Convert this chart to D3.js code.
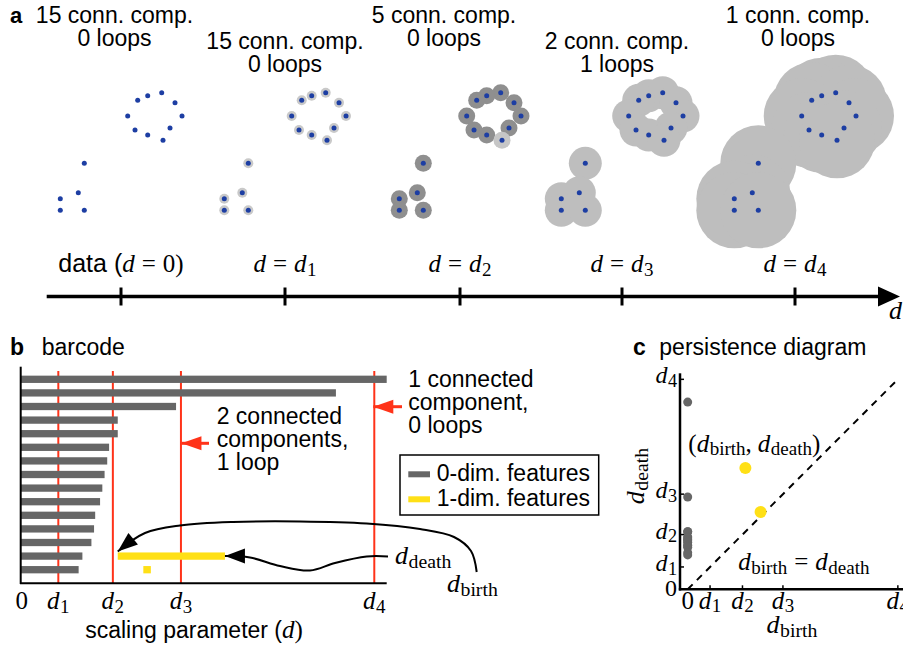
<!DOCTYPE html>
<html lang="en">
<head>
<meta charset="UTF-8">
<title>Persistent homology: barcode and persistence diagram</title>
<script src="https://d3js.org/d3.v7.min.js"></script>
<style>
    body { margin: 0; padding: 0; background: #fff; overflow: hidden; }
    svg { display: block; }
    text { white-space: pre; }
</style>
</head>
<body>
<svg id="fig" width="903" height="650"></svg>
<script>
// ---- data ----
// point cloud (x relative to the stage tick, y absolute)
var cloudX = [40.7, 26.7, 16.7, 54, 6.7, 61, 14, 49, 26.7, 42, -36.7, -42.7, -60.7, -60.7, -36.7];
var cloudY = [92.7, 95.7, 100.3, 102.7, 116, 116, 130, 128, 135, 140.3, 163.3, 192.7, 198.7, 210.3, 210.3];

// filtration stages
var stageLabels = ['0', '1', '2', '3', '4'];
var stageRadius = [0, 5, 8.5, 16.5, 38];
var stageComps = [15, 15, 5, 2, 1];
var stageLoops = [0, 0, 0, 1, 0];
var stageShade = ['none', '#c9c9c9', '#8f8f8f', '#bebebe', '#bebebe'];

// scaling parameter values
var dTicks = [1, 2.45, 4.26, 9.4];
var dNames = ['1', '2', '3', '4'];

// barcode: 0-dim features (birth 0), death values; first one never dies
var h0Death = [Infinity, 8.38, 4.13, 2.58, 2.58, 2.35, 2.30, 2.23, 2.17, 2.11, 1.98, 1.95, 1.88, 1.64, 1.54];
// 1-dim features
var h1Birth = [2.58, 3.26];
var h1Death = [5.43, 3.46];
var h1Row = [13, 14];

var sans = "'Liberation Sans', Arial, Helvetica, sans-serif";
var serif = "'Liberation Serif', 'Times New Roman', serif";
var gray = '#666666', yellow = '#ffe016', red = '#ff3319', blue = '#1d3ea3';

var svg = d3.select('#fig');

// math-ish text helper: parts = [{t, i, sub, sans, dx}]
function mathText(g, x, y, parts, size, anchor) {
    var t = g.append('text')
        .attr('x', x).attr('y', y)
        .attr('font-family', serif)
        .attr('font-size', size)
        .attr('text-anchor', anchor || 'start');
    var shift = size * 0.15, inSub = false;
    parts.forEach(function(p) {
        var s = t.append('tspan').text(p.t);
        if (p.i) s.attr('font-style', 'italic');
        if (p.sans) s.attr('font-family', sans);
        if (p.dx) s.attr('dx', p.dx);
        if (p.sub) {
            s.attr('font-size', size * 0.76);
            if (!inSub) s.attr('dy', shift);
            inSub = true;
        } else if (inSub) {
            s.attr('dy', -shift);
            inSub = false;
        }
    });
    return t;
}
function dSub(name) { return [{t: 'd', i: true}, {t: name, sub: true, dx: 0.5}]; }

// arrow markers
var defs = svg.append('defs');
function marker(id, color, len, half) {
    defs.append('marker')
        .attr('id', id)
        .attr('markerUnits', 'userSpaceOnUse')
        .attr('viewBox', (-1) + ' ' + (-half - 1) + ' ' + (len + 2) + ' ' + (2 * half + 2))
        .attr('markerWidth', len + 2).attr('markerHeight', 2 * half + 2)
        .attr('refX', len).attr('refY', 0)
        .attr('orient', 'auto')
        .append('path')
        .attr('d', 'M0,' + (-half) + 'L' + len + ',0L0,' + half + 'Z')
        .attr('fill', color);
}
marker('redHead', red, 20, 7);
marker('blackHead', '#000', 20, 7.5);

// ================= panel a =================
var pa = svg.append('g');
var stageX = d3.scaleLinear().domain([0, 1, 2, 3, 4]).range([121, 285, 460, 622, 795]);
var titleDx = [-6.5, 0, -16, -5, 3];
var cloudSX = d3.scaleLinear().domain([-70, 70]).range([-70, 70]);
var cloudSY = d3.scaleLinear().domain([90, 215]).range([90, 215]);

pa.append('text').attr('x', 10).attr('y', 23)
    .attr('font-family', sans).attr('font-weight', 'bold').attr('font-size', 22).text('a');

stageLabels.forEach(function(s, k) {
    var x0 = stageX(k);
    var ty = (k % 2 === 0) ? 23 : 49;
    var tt = pa.append('text').attr('font-family', sans).attr('font-size', 23)
        .attr('text-anchor', 'middle');
    tt.append('tspan').attr('x', x0 + titleDx[k]).attr('y', ty)
        .text(stageComps[k] + ' conn. comp.');
    tt.append('tspan').attr('x', x0 + titleDx[k]).attr('y', ty + 23)
        .text(stageLoops[k] + ' loops');

    var g = pa.append('g').attr('transform', 'translate(' + x0 + ',0)');
    if (stageRadius[k] > 0) {
        var idx = d3.range(cloudX.length);
        g.selectAll('circle.halo').data(idx).enter().append('circle')
            .attr('class', 'halo')
            .attr('cx', function(i) { return cloudSX(cloudX[i]); })
            .attr('cy', function(i) { return cloudSY(cloudY[i]); })
            .attr('r', cloudSX(stageRadius[k]) - cloudSX(0))
            .attr('fill', function(i) { return (k === 2 && i === 9) ? '#c6c6c6' : stageShade[k]; });
    }
    g.selectAll('circle.pt').data(d3.range(cloudX.length)).enter().append('circle')
        .attr('class', 'pt')
        .attr('cx', function(i) { return cloudSX(cloudX[i]); })
        .attr('cy', function(i) { return cloudSY(cloudY[i]); })
        .attr('r', 2.5)
        .attr('fill', blue);

    // labels above the axis
    var lab = k === 0
        ? [{t: 'data (', sans: true}, {t: 'd', i: true}, {t: '=', dx: 7}, {t: '0)', dx: 7}]
        : [{t: 'd', i: true}, {t: '=', dx: 7}, {t: 'd', i: true, dx: 7}, {t: s, sub: true, dx: 0.5}];
    mathText(pa, x0, 272, lab, 25, 'middle');
});

// scaling axis with arrow
pa.append('line').attr('x1', 46.7).attr('x2', 882).attr('y1', 296.5).attr('y2', 296.5)
    .attr('stroke', '#000').attr('stroke-width', 3.5);
pa.append('path').attr('d', 'M878,286.5L900,296.5L878,306.5Z').attr('fill', '#000');
pa.selectAll('line.st').data(stageLabels).enter().append('line')
    .attr('class', 'st')
    .attr('x1', function(d, k) { return stageX(k); })
    .attr('x2', function(d, k) { return stageX(k); })
    .attr('y1', 287.5).attr('y2', 305.5)
    .attr('stroke', '#000').attr('stroke-width', 3);
mathText(pa, 889, 319, [{t: 'd', i: true}], 26, 'start');

// ================= panel b =================
var pb = svg.append('g');
var xB = d3.scaleLinear().domain([0, 9.73]).range([20.7, 386.7]);
var yRow = d3.scalePoint().domain(d3.range(15)).range([379.3, 569.7]);
var barH = 7.3;

pb.append('text').attr('x', 10).attr('y', 355)
    .attr('font-family', sans).attr('font-weight', 'bold').attr('font-size', 23).text('b');
pb.append('text').attr('x', 41.7).attr('y', 355)
    .attr('font-family', sans).attr('font-size', 23).text('barcode');

// red lines at d1..d4
pb.selectAll('line.dl').data(dTicks).enter().append('line')
    .attr('class', 'dl')
    .attr('x1', function(d) { return xB(d); }).attr('x2', function(d) { return xB(d); })
    .attr('y1', 371).attr('y2', 583.3)
    .attr('stroke', red).attr('stroke-width', 2);

// 0-dim bars
pb.selectAll('rect.h0').data(h0Death).enter().append('rect')
    .attr('class', 'h0')
    .attr('x', xB(0))
    .attr('y', function(d, i) { return yRow(i) - barH / 2; })
    .attr('width', function(d) { return xB(Math.min(d, xB.domain()[1])) - xB(0); })
    .attr('height', barH)
    .attr('fill', gray);

// 1-dim bars
pb.selectAll('rect.h1').data(h1Birth).enter().append('rect')
    .attr('class', 'h1')
    .attr('x', function(d) { return xB(d); })
    .attr('y', function(d, i) { return yRow(h1Row[i]) - barH / 2; })
    .attr('width', function(d, i) { return xB(h1Death[i]) - xB(d); })
    .attr('height', barH)
    .attr('fill', yellow);

// axes
pb.append('line').attr('x1', 20.7).attr('x2', 20.7).attr('y1', 366.7).attr('y2', 584)
    .attr('stroke', '#000').attr('stroke-width', 2);
pb.append('line').attr('x1', 20).attr('x2', 386.7).attr('y1', 583.3).attr('y2', 583.3)
    .attr('stroke', '#000').attr('stroke-width', 2);

mathText(pb, xB(0) + 1, 609, [{t: '0'}], 25, 'middle');
dTicks.forEach(function(d, k) {
    mathText(pb, xB(d), 609, dSub(dNames[k]), 25, 'middle');
});
var xl = pb.append('text').attr('x', 194).attr('y', 637.5)
    .attr('font-family', sans).attr('font-size', 23).attr('text-anchor', 'middle');
xl.append('tspan').text('scaling parameter (');
xl.append('tspan').attr('font-family', serif).attr('font-style', 'italic').attr('font-size', 25).text('d');
xl.append('tspan').attr('font-family', serif).attr('font-size', 25).text(')');

// annotations
function lines(x, y0, arr, size) {
    var t = pb.append('text').attr('font-family', sans).attr('font-size', size);
    arr.forEach(function(s, i) {
        t.append('tspan').attr('x', x).attr('y', y0 + i * 23).text(s);
    });
}
lines(408.3, 387, ['1 connected', 'component,', '0 loops'], 23);
lines(216.7, 424, ['2 connected', 'components,', '1 loop'], 23);

pb.append('line').attr('x1', 402).attr('x2', xB(dTicks[3]) - 1).attr('y1', 406.7).attr('y2', 406.7)
    .attr('stroke', red).attr('stroke-width', 3).attr('marker-end', 'url(#redHead)');
pb.append('line').attr('x1', 209).attr('x2', xB(dTicks[2]) + 0.5).attr('y1', 443.3).attr('y2', 443.3)
    .attr('stroke', red).attr('stroke-width', 3).attr('marker-end', 'url(#redHead)');

// legend
var lg = pb.append('g');
lg.append('rect').attr('x', 400).attr('y', 455).attr('width', 198.7).attr('height', 60)
    .attr('fill', '#fff').attr('stroke', '#000').attr('stroke-width', 1.5);
[['0-dim. features', gray], ['1-dim. features', yellow]].forEach(function(it, i) {
    lg.append('rect').attr('x', 408.3).attr('y', 471.3 + i * 25).attr('width', 21.7).attr('height', 6)
        .attr('fill', it[1]);
    lg.append('text').attr('x', 436.7).attr('y', 480.5 + i * 25)
        .attr('font-family', sans).attr('font-size', 23).text(it[0]);
});

// curved arrows to birth / death of the loop
var curve = d3.line().curve(d3.curveCatmullRom.alpha(0.5));
var tipB = [xB(h1Birth[0]), yRow(h1Row[0]) - barH / 2 - 1];
pb.append('path')
    .attr('d', curve([[476.7, 572], [471, 551], [454, 537], [420, 529], [366.7, 523.5],
        [300, 521.5], [233, 522], [180, 525.5], [145, 533], tipB]))
    .attr('fill', 'none').attr('stroke', '#000').attr('stroke-width', 2)
    .attr('marker-end', 'url(#blackHead)');
var tipD = [xB(h1Death[0]), yRow(h1Row[0])];
pb.append('path')
    .attr('d', curve([[388, 556.5], [366.7, 556.5], [335, 563], [310, 570.5], [280, 566], [250, 557.5], tipD]))
    .attr('fill', 'none').attr('stroke', '#000').attr('stroke-width', 2)
    .attr('marker-end', 'url(#blackHead)');
mathText(pb, 395, 564, [{t: 'd', i: true}, {t: 'death', sub: true, dx: 0.5}], 26, 'start');
mathText(pb, 447, 592, [{t: 'd', i: true}, {t: 'birth', sub: true, dx: 0.5}], 26, 'start');

// ================= panel c =================
var pc = svg.append('g');
var xC = d3.scaleLinear().domain([-0.344, 9.63]).range([680, 903]);
var yC = d3.scaleLinear().domain([0, 9.67]).range([589.3, 373.3]);

pc.append('text').attr('x', 633).attr('y', 355)
    .attr('font-family', sans).attr('font-weight', 'bold').attr('font-size', 23).text('c');
pc.append('text').attr('x', 659.3).attr('y', 355)
    .attr('font-family', sans).attr('font-size', 23).text('persistence diagram');

// diagonal
pc.append('line')
    .attr('x1', xC(0)).attr('y1', yC(0)).attr('x2', xC(dTicks[3])).attr('y2', yC(dTicks[3]))
    .attr('stroke', '#000').attr('stroke-width', 2).attr('stroke-dasharray', '7,6');

// axes
pc.append('line').attr('x1', xC(-0.344)).attr('x2', xC(-0.344)).attr('y1', yC(9.67)).attr('y2', yC(0) + 1.2)
    .attr('stroke', '#000').attr('stroke-width', 2.5);
pc.append('line').attr('x1', xC(-0.344) - 1.2).attr('x2', 903).attr('y1', yC(0)).attr('y2', yC(0))
    .attr('stroke', '#000').attr('stroke-width', 2.5);
pc.selectAll('line.xt').data(dTicks).enter().append('line')
    .attr('class', 'xt')
    .attr('x1', function(d) { return xC(d); }).attr('x2', function(d) { return xC(d); })
    .attr('y1', yC(0)).attr('y2', yC(0) - 4)
    .attr('stroke', '#000').attr('stroke-width', 1.5);
pc.selectAll('line.yt').data(dTicks).enter().append('line')
    .attr('class', 'yt')
    .attr('x1', xC(-0.344)).attr('x2', xC(-0.344) + 4)
    .attr('y1', function(d) { return yC(d); }).attr('y2', function(d) { return yC(d); })
    .attr('stroke', '#000').attr('stroke-width', 1.5);

mathText(pc, xC(0), 608.5, [{t: '0'}], 25, 'middle');
mathText(pc, 677, yC(0) + 7, [{t: '0'}], 24, 'end');
dTicks.forEach(function(d, k) {
    mathText(pc, xC(d), 608.5, dSub(dNames[k]), 25, 'middle');
    mathText(pc, 677, yC(d) + 4, dSub(dNames[k]), 24, 'end');
});

// points
var finiteH0 = h0Death.filter(function(d) { return isFinite(d); });
pc.selectAll('circle.p0').data(finiteH0).enter().append('circle')
    .attr('class', 'p0')
    .attr('cx', xC(0)).attr('cy', function(d) { return yC(d); })
    .attr('r', 4.5).attr('fill', gray);
pc.selectAll('circle.p1').data(h1Birth).enter().append('circle')
    .attr('class', 'p1')
    .attr('cx', function(d) { return xC(d); })
    .attr('cy', function(d, i) { return yC(h1Death[i]); })
    .attr('r', 6).attr('fill', yellow);

mathText(pc, 688.3, 451.5, [{t: '('}, {t: 'd', i: true}, {t: 'birth', sub: true, dx: 0.5}, {t: ','},
    {t: 'd', i: true, dx: 6}, {t: 'death', sub: true, dx: 0.5}, {t: ')'}], 25, 'start');
mathText(pc, 738.3, 570, [{t: 'd', i: true}, {t: 'birth', sub: true, dx: 0.5}, {t: '=', dx: 7},
    {t: 'd', i: true, dx: 7}, {t: 'death', sub: true, dx: 0.5}], 25, 'start');
mathText(pc, 792, 633, [{t: 'd', i: true}, {t: 'birth', sub: true, dx: 0.5}], 26, 'middle');
mathText(pc, 0, 0, [{t: 'd', i: true}, {t: 'death', sub: true, dx: 0.5}], 26, 'middle')
    .attr('transform', 'translate(644,476) rotate(-90)');
</script>
</body>
</html>
